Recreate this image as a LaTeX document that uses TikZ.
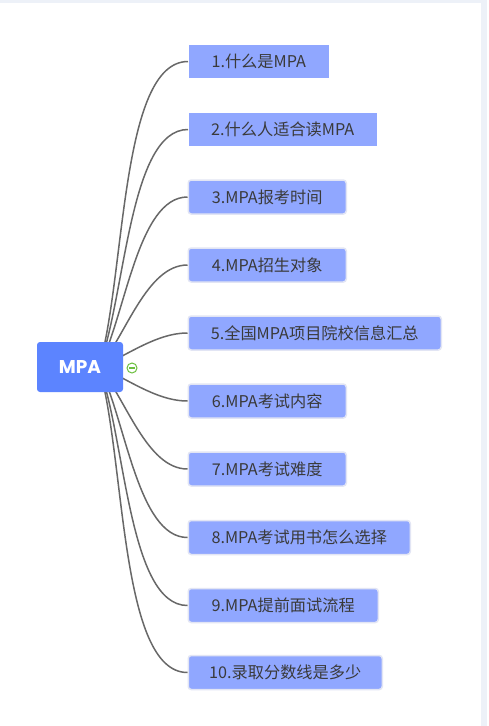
\documentclass[tikz,border=0pt]{standalone}
\usepackage{fontspec}
\setmainfont{Noto Sans CJK SC}
\newfontfamily\popfont{Poppins}
\usetikzlibrary{calc}
\definecolor{childfill}{HTML}{90A7FF}
\definecolor{rootfill}{HTML}{5C84FF}
\definecolor{childline}{HTML}{E2E5F4}
\definecolor{linkcol}{HTML}{686868}
\definecolor{txtcol}{HTML}{3A3A3A}
\definecolor{framecol}{HTML}{EDF1F8}
\definecolor{iconcol}{HTML}{6CBF3F}
\tikzset{
  child/.style={fill=childfill, text=txtcol, minimum height=34pt, inner sep=0pt,
    anchor=west, font=\fontsize{16.2}{18}\selectfont, rounded corners=3pt,
    draw=childline, line width=1.5pt},
  childplain/.style={child, draw=none, rounded corners=0pt, minimum height=33pt},
  rootbox/.style={fill=rootfill, text=white, minimum width=86pt, minimum height=50pt,
    rounded corners=3pt, font=\popfont\fontsize{18.5}{20}\selectfont\bfseries},
  link/.style={draw=linkcol, line width=1.5pt}
}
\newcommand\mmlink[2]{%
  \draw[link] (S) .. controls ($(S)!0.3!(#1.west)$) and ($(#1.west)+(-#2,0)$) .. (#1.west);}
\begin{document}
\begin{tikzpicture}[x=1pt,y=-1pt]
\useasboundingbox (0,0) rectangle (489,726);
\fill[white] (0,0) rectangle (489,726);
\fill[framecol] (0,0) rectangle (481,3);
\fill[framecol] (481,0) rectangle (487,726);
\coordinate (S) at (99,367);
\node[childplain, minimum width=140pt] (n1) at (188,61.5) {1.什么是MPA};
\node[childplain, minimum width=188pt] (n2) at (188,129.5) {2.什么人适合读MPA};
\node[child, minimum width=158pt] (n3) at (187.5,197) {3.MPA报考时间};
\node[child, minimum width=158pt] (n4) at (187.5,265) {4.MPA招生对象};
\node[child, minimum width=253pt] (n5) at (187.5,333) {5.全国MPA项目院校信息汇总};
\node[child, minimum width=158pt] (n6) at (187.5,401) {6.MPA考试内容};
\node[child, minimum width=158pt] (n7) at (187.5,469) {7.MPA考试难度};
\node[child, minimum width=222pt] (n8) at (187.5,537.5) {8.MPA考试用书怎么选择};
\node[child, minimum width=190pt] (n9) at (187.5,605.5) {9.MPA提前面试流程};
\node[child, minimum width=194pt] (n10) at (187.5,672.5) {10.录取分数线是多少};
\mmlink{n1}{68}
\mmlink{n2}{59}
\mmlink{n3}{50}
\mmlink{n4}{41}
\mmlink{n5}{32}
\mmlink{n6}{32}
\mmlink{n7}{41}
\mmlink{n8}{50}
\mmlink{n9}{59}
\mmlink{n10}{68}
\node[rootbox] (root) at (80,367) {MPA};
\node[circle, draw=iconcol, fill=white, line width=1pt, minimum size=10pt, inner sep=0pt] (tog) at (132,368) {};
\draw[iconcol, line width=1.2pt] ($(tog.center)+(-2.8,0)$) -- ($(tog.center)+(2.8,0)$);
\end{tikzpicture}
\end{document}
